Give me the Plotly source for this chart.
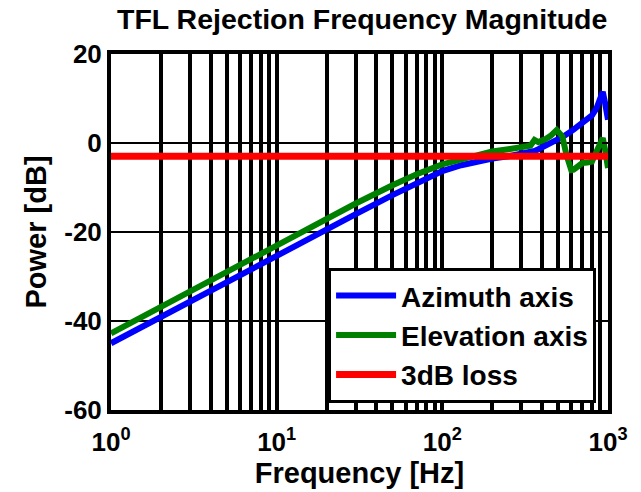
import plotly.graph_objects as go

# ---- data ----
freq_hz = [1, 1.5, 2, 3, 5, 7, 10, 15, 20, 30, 50, 70, 100, 130, 170, 200, 250,
           300, 340, 360, 380, 420, 450, 490, 530, 560, 600, 620, 650, 700, 750,
           800, 850, 900, 930, 960, 1000]
azimuth_db = [-45.0, -41.5, -39.1, -35.6, -31.2, -28.4, -25.4, -21.9, -19.5, -16.0,
              -11.7, -9.0, -6.3, -5.0, -4.0, -3.5, -3.0, -2.5, -2.0, -1.8, -1.4,
              -0.7, -0.1, 0.7, 1.3, 1.8, 2.6, 3.0, 3.6, 4.5, 5.3, 6.2, 7.7, 10.0,
              11.5, 9.0, 5.2]
elevation_db = [-42.8, -39.3, -36.8, -33.3, -28.9, -26.0, -23.0, -19.5, -17.0, -13.6,
                -9.5, -7.0, -4.8, -3.6, -2.6, -1.9, -1.4, -1.1, -0.6, 0.7, 0.2,
                0.9, 1.6, 2.9, 1.5, -2.5, -6.1, -6.0, -5.3, -4.5, -4.4, -4.2, -2.0,
                0.3, 1.1, -1.5, -5.6]
loss_freq_hz = [1, 1000]
loss_db = [-3, -3]

grid_ticks = [m * 10 ** d for d in range(3) for m in range(1, 10)] + [1000]
decade_labels = {1: "<b>10<sup>0</sup></b>", 10: "<b>10<sup>1</sup></b>",
                 100: "<b>10<sup>2</sup></b>", 1000: "<b>10<sup>3</sup></b>"}
grid_text = [decade_labels.get(v, "") for v in grid_ticks]
y_ticks = [-60, -40, -20, 0, 20]
y_text = ["<b>-60</b>", "<b>-40</b>", "<b>-20</b>", "<b>0</b>", "<b>20</b>"]

FONT = "Liberation Sans, Arial, sans-serif"

fig = go.Figure()
fig.add_trace(go.Scatter(x=freq_hz, y=azimuth_db, mode="lines", name="<b>Azimuth axis</b>",
                         line=dict(color="#0000FF", width=6)))
fig.add_trace(go.Scatter(x=freq_hz, y=elevation_db, mode="lines", name="<b>Elevation axis</b>",
                         line=dict(color="#008000", width=6)))
fig.add_trace(go.Scatter(x=loss_freq_hz, y=loss_db, mode="lines", name="<b>3dB loss</b>",
                         line=dict(color="#FF0000", width=7)))

fig.update_layout(
    width=641, height=492,
    margin=dict(l=111, r=33, t=54, b=82),
    paper_bgcolor="white", plot_bgcolor="white",
    font=dict(family=FONT, color="black"),
    title=dict(text="<b>TFL Rejection Frequency Magnitude</b>",
               font=dict(size=28.5, family=FONT, color="black"),
               x=0.565, xanchor="center", y=1 - 19 / 492, yanchor="middle"),
    showlegend=True,
    legend=dict(x=0.976, xanchor="right", y=0.02, yanchor="bottom",
                bgcolor="white", bordercolor="black", borderwidth=3,
                font=dict(size=28, family=FONT, color="black"),
                itemwidth=60, tracegroupgap=0),
)
fig.update_xaxes(
    type="log", range=[0, 3],
    tickmode="array", tickvals=grid_ticks, ticktext=grid_text,
    tickfont=dict(size=26, family=FONT, color="black"),
    ticklabelstandoff=6,
    showgrid=True, gridcolor="black", gridwidth=3.5,
    showline=True, linecolor="black", linewidth=4, mirror=True,
    ticks="", zeroline=False,
    title=dict(text="<b>Frequency [Hz]</b>", font=dict(size=29, family=FONT, color="black"),
               standoff=2),
)
fig.update_yaxes(
    range=[-60, 20], tickmode="array", tickvals=y_ticks, ticktext=y_text,
    tickfont=dict(size=26, family=FONT, color="black"),
    showgrid=True, gridcolor="black", gridwidth=1.5,
    showline=True, linecolor="black", linewidth=4, mirror="ticks",
    ticks="inside", ticklen=6, tickwidth=2, tickcolor="black", zeroline=False,
    title=dict(text="<b>Power [dB]</b>", font=dict(size=29, family=FONT, color="black"),
               standoff=10),
)
fig.write_html("out.html")
